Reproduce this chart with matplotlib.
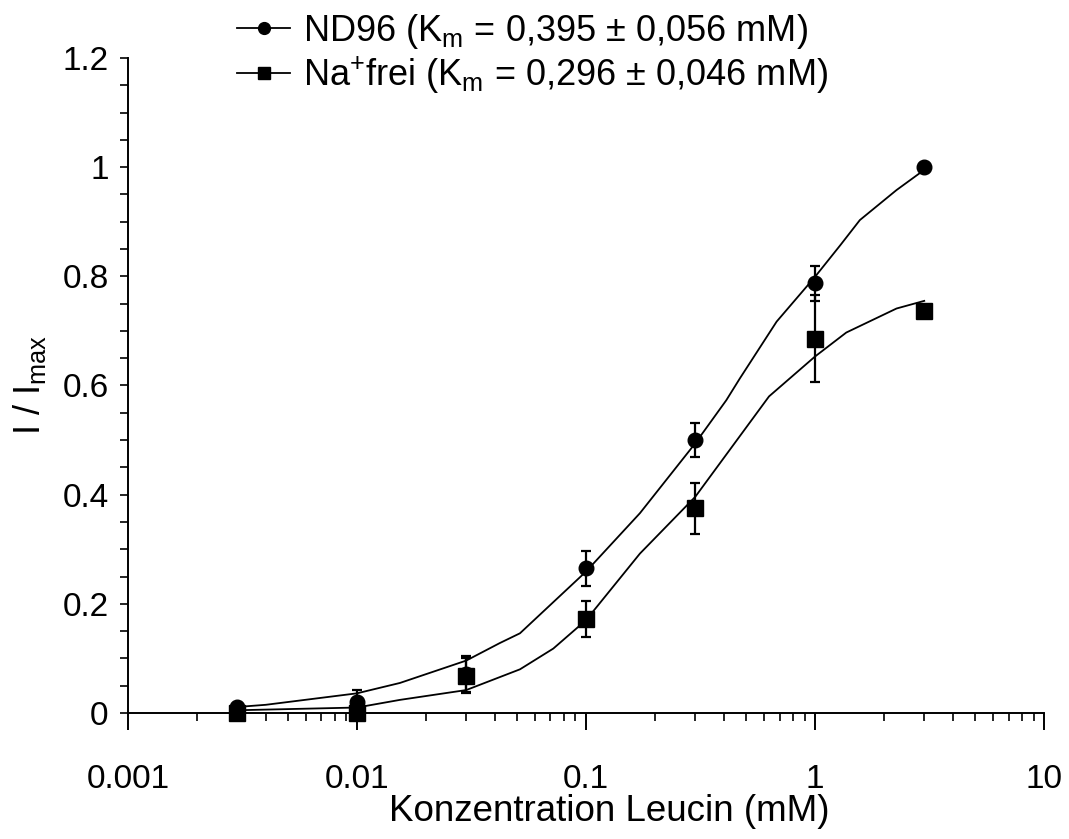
import matplotlib
matplotlib.use("Agg")
import matplotlib.pyplot as plt
from matplotlib.ticker import MultipleLocator, LogLocator, NullFormatter, FixedFormatter, FixedLocator

plt.rcParams['font.family'] = ['Liberation Sans', 'DejaVu Sans']
plt.rcParams['mathtext.default'] = 'regular'

# measured points (concentration in mM)
conc = [0.003, 0.01, 0.03, 0.1, 0.3, 1.0, 3.0]
nd96 = [0.011, 0.020, 0.072, 0.265, 0.500, 0.787, 1.000]
nd96_err = [0.0, 0.022, 0.033, 0.032, 0.031, 0.032, 0.0]
nafrei = [0.0, 0.0, 0.068, 0.173, 0.375, 0.686, 0.736]
nafrei_err = [0.0, 0.0, 0.032, 0.033, 0.047, 0.080, 0.0]

# fitted curves
nd96_fit_x = [0.003, 0.004, 0.01, 0.0154, 0.03, 0.042, 0.0515, 0.1, 0.172,
              0.3, 0.41, 0.47, 0.68, 1.0, 1.29, 1.57, 2.27, 3.0]
nd96_fit_y = [0.011, 0.015, 0.036, 0.055, 0.096, 0.128, 0.146, 0.259, 0.366,
              0.494, 0.573, 0.613, 0.717, 0.799, 0.857, 0.903, 0.958, 0.995]
na_fit_x = [0.003, 0.01, 0.0154, 0.03, 0.0515, 0.072, 0.1, 0.172, 0.3,
            0.63, 1.0, 1.37, 2.27, 3.0]
na_fit_y = [0.005, 0.010, 0.024, 0.042, 0.080, 0.118, 0.170, 0.292, 0.396,
            0.580, 0.653, 0.697, 0.741, 0.755]

labels = ['ND96 (K$_m$ = 0,395 ± 0,056 mM)',
          'Na$^{+}$frei (K$_m$ = 0,296 ± 0,046 mM)']
x_ticklabels = ['0.001', '0.01', '0.1', '1', '10']
y_ticklabels = ['0', '0.2', '0.4', '0.6', '0.8', '1', '1.2']

fig = plt.figure(figsize=(10.69, 8.39), dpi=100)
ax = fig.add_axes([0.1197, 0.1502, 0.8569, 0.7807])

ax.plot(nd96_fit_x, nd96_fit_y, color='black', lw=1.3)
ax.plot(na_fit_x, na_fit_y, color='black', lw=1.3)
ax.errorbar(conc, nd96, yerr=nd96_err, fmt='none', ecolor='black',
            elinewidth=1.6, capsize=3.5, capthick=1.6)
ax.errorbar(conc, nafrei, yerr=nafrei_err, fmt='none', ecolor='black',
            elinewidth=1.6, capsize=3.5, capthick=1.6)
ax.plot(conc, nafrei, 's', color='black', ms=11.5, clip_on=False, zorder=4)
ax.plot(conc, nd96, 'o', color='black', ms=10.5, clip_on=False, zorder=4)

# legend handles
h1, = ax.plot([], [], '-o', color='black', lw=1.3, ms=8.5)
h2, = ax.plot([], [], '-s', color='black', lw=1.3, ms=9)
fig.legend([h1, h2], labels, loc='upper left', bbox_to_anchor=(0.212, 0.999),
           frameon=False, fontsize=26, handlelength=1.45, handletextpad=0.36,
           labelspacing=0.12, borderpad=0.3, borderaxespad=0)

ax.set_xscale('log')
ax.set_xlim(0.001, 10)
ax.set_ylim(0, 1.2)
ax.xaxis.set_major_locator(FixedLocator([0.001, 0.01, 0.1, 1, 10]))
ax.xaxis.set_major_formatter(FixedFormatter(x_ticklabels))
ax.xaxis.set_minor_locator(LogLocator(base=10, subs=range(2, 10), numticks=20))
ax.xaxis.set_minor_formatter(NullFormatter())
ax.set_yticks([0, 0.2, 0.4, 0.6, 0.8, 1.0, 1.2])
ax.set_yticklabels(y_ticklabels)
ax.yaxis.set_minor_locator(MultipleLocator(0.05))

for s in ['top', 'right']:
    ax.spines[s].set_visible(False)
ax.spines['left'].set_linewidth(1.4)
ax.spines['bottom'].set_linewidth(1.4)

ax.tick_params(axis='x', which='major', length=12, width=1.4, labelsize=24, pad=25)
ax.tick_params(axis='x', which='minor', length=6, width=1.2)
ax.tick_params(axis='y', which='both', length=6, width=1.2, labelsize=24, pad=8)

ax.set_xlabel('Konzentration Leucin (mM)', fontsize=26.5)
ax.xaxis.set_label_coords(0.525, -0.150, transform=ax.transAxes)
ax.xaxis.label.set_va('center')
ax.set_ylabel('I / I$_{max}$', fontsize=26, labelpad=10)

fig.savefig('out.png', dpi=100)
